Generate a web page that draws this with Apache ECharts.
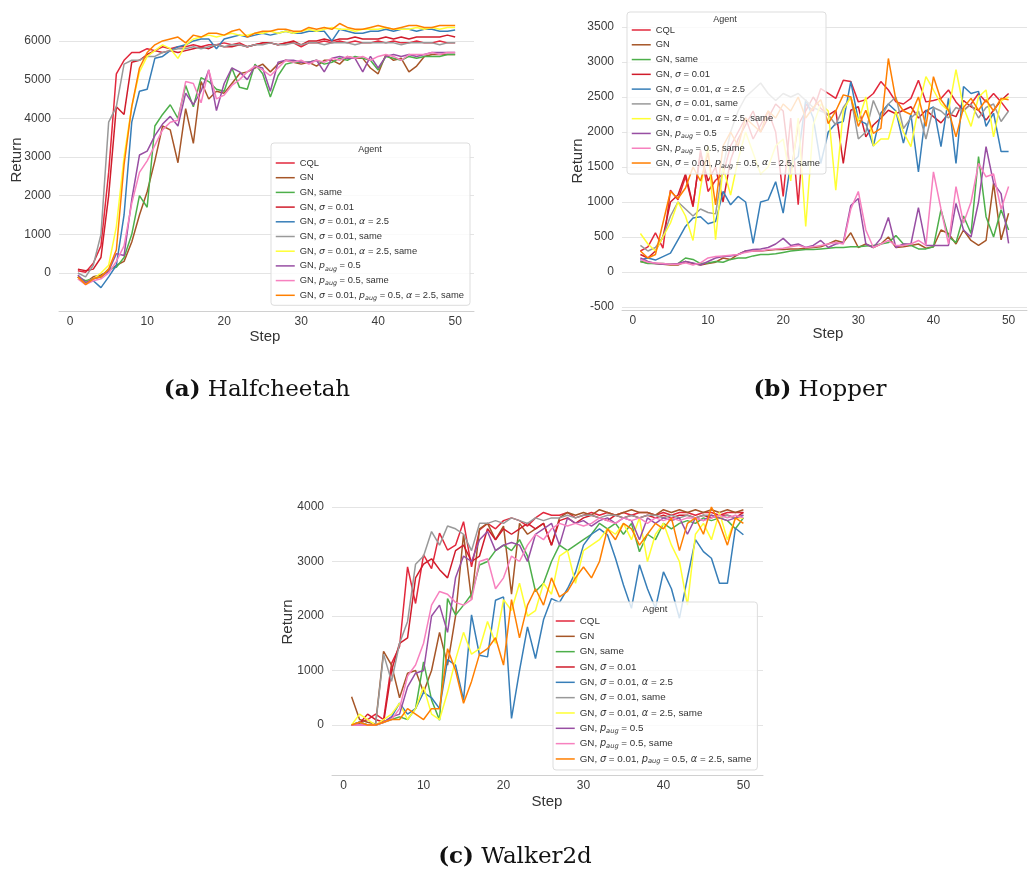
<!DOCTYPE html>
<html>
<head>
<meta charset="utf-8">
<style>html,body{margin:0;padding:0;background:#fff}#c{width:1030px;height:872px}</style>
<script src="https://cdn.jsdelivr.net/npm/echarts@6/dist/echarts.min.js"></script>
</head>
<body>
<div id="c"></div>
<script>
const steps = [1,2,3,4,5,6,7,8,9,10,11,12,13,14,15,16,17,18,19,20,21,22,23,24,25,26,27,28,29,30,31,32,33,34,35,36,37,38,39,40,41,42,43,44,45,46,47,48,49,50];
const agents = ['CQL','GN','GN, same','GN, σ = 0.01','GN, σ = 0.01, α = 2.5','GN, σ = 0.01, same','GN, σ = 0.01, α = 2.5, same','GN, p_aug = 0.5','GN, p_aug = 0.5, same','GN, σ = 0.01, p_aug = 0.5, α = 2.5, same'];
const colors = ['#e2283c','#a65628','#4daf4a','#d01c2b','#377eb8','#999999','#ffff33','#984ea3','#f781bf','#ff7f00'];
const xTicks = [0,10,20,30,40,50];
const panelTitles = ['Halfcheetah','Hopper','Walker2d'];

// ---- Halfcheetah ----
const hcCQL = [60,20,250,700,2600,5150,5500,5700,5700,5800,
 5750,5850,5800,5850,5850,5900,5850,5900,5900,5950,
 5900,5950,5850,5900,5950,5950,5900,5950,5950,5850,
 5950,5950,6000,5950,6000,5950,6000,5950,5950,6000,
 5950,6000,5950,5950,6000,5950,5950,6000,5950,5950];
const hcGN = [-100,-250,-100,-50,50,200,300,800,1500,2100,
 2900,3800,3700,2850,4250,3350,4950,4500,4700,4650,
 4900,5150,5200,5300,5400,5200,5400,5500,5450,5400,
 5450,5350,5500,5500,5400,5600,5550,5550,5300,5150,
 5650,5500,5550,5200,5350,5600,5650,5650,5650,5650];
const hcSame = [-100,-200,-150,-100,100,150,400,1000,2000,1700,
 3800,4100,4350,4000,4850,4300,5050,4950,4750,4700,
 5300,4800,4750,5400,5150,4550,5100,5400,5450,5450,
 5450,5500,5400,5450,5550,5500,5600,5550,5500,5250,
 5600,5550,5500,5600,5550,5600,5600,5600,5650,5650];
const hcSig = [100,60,100,400,2000,4300,4100,5450,5500,5650,
 5750,5700,5750,5700,5750,5800,5850,5800,5900,5850,
 5850,5900,5850,5900,5950,5950,5900,5950,6000,5900,
 6000,6000,6050,6000,6050,6050,6100,6050,6050,6050,
 6100,6050,6100,6050,6100,6100,6100,6100,6150,6100];
const hcSigA = [-100,-250,-200,-380,-100,200,1500,3900,4700,4750,
 5550,5600,5750,5850,5900,6000,6050,6050,5800,6050,
 6100,6150,6100,6150,6200,6150,6200,6250,6200,6200,
 6250,6250,6250,6000,6300,6250,6200,6200,6250,6250,
 6300,6250,6300,6300,6250,6300,6300,6250,6250,6280];
const hcSigSame = [0,-100,200,1000,3900,4300,5400,5500,5500,5600,
 5600,5700,5750,5800,5800,5850,5800,5850,5900,5850,
 5900,5900,5850,5900,5900,5950,5900,5900,5950,5900,
 5950,5950,5900,5950,5950,5950,5900,5950,5950,5950,
 5950,5950,5900,5950,5950,5950,5950,5900,5950,5950];
const hcSigASame = [-150,-250,-150,0,200,1200,3000,4300,5200,5600,
 5750,5900,5800,5550,5900,6050,6100,6150,6100,6150,
 6200,6150,6150,6200,6200,6250,6200,6250,6200,6250,
 6300,6250,6300,6350,6300,6300,6250,6300,6300,6300,
 6350,6300,6300,6300,6350,6300,6350,6300,6350,6350];
const hcPaug = [-50,-250,-150,-100,50,500,450,1900,3050,3150,
 3550,3850,4050,3800,4650,4350,4700,5250,4200,4900,
 5300,5200,5000,5350,5300,4700,5450,5500,5500,5450,
 5450,5500,5200,5550,5600,5550,5550,5200,5600,5300,
 5600,5650,5600,5650,5600,5650,5700,5700,5700,5700];
const hcPaugSame = [-150,-300,-200,-150,0,300,700,1800,2600,2900,
 3300,3700,3900,3950,4950,4900,4400,5250,4500,4600,
 4850,5000,5200,5350,5250,5100,5300,5500,5450,5500,
 5400,5500,5450,5550,5500,5600,5550,5600,5500,5600,
 5650,5600,5500,5650,5650,5650,5700,5650,5700,5700];
const hcFull = [-100,-300,-150,-100,100,600,2800,4300,5300,5700,
 5900,6000,6050,6100,5950,6150,6100,6200,6200,6150,
 6250,6300,6100,6200,6250,6250,6300,6300,6250,6250,
 6350,6300,6350,6300,6450,6350,6300,6300,6350,6400,
 6350,6300,6350,6400,6400,6350,6350,6400,6400,6400];

// ---- Hopper ----
const hpCQL = [300,360,560,340,1170,1030,1360,930,1740,1150,
 1310,1400,1800,2000,2200,1900,2100,2300,2000,1080,
 2200,960,2400,2300,2620,2550,2480,2740,2720,2430,
 2460,2550,2720,2600,2430,2400,2480,2740,2430,2450,
 2480,2600,2430,2310,2400,2550,2430,2550,2430,2290];
const hpGN = [150,130,120,110,100,100,150,120,100,120,
 140,200,180,250,300,300,300,310,320,320,
 330,330,340,350,360,400,450,420,560,350,
 400,350,400,500,350,360,380,400,340,360,
 600,550,400,600,450,380,450,1270,460,840];
const hpSame = [150,120,120,120,110,120,200,180,120,130,
 150,140,180,200,200,230,250,250,260,280,
 300,310,320,320,330,340,350,350,360,360,
 370,380,400,420,520,400,380,330,330,360,
 890,505,420,800,550,1650,790,500,890,600];
const hpSig = [250,200,300,500,1000,1100,1400,950,1700,1300,
 1500,1000,1600,1900,2100,2300,2000,2200,2400,2300,
 1400,2100,2300,2500,2340,2240,2310,1550,2310,2360,
 1930,2100,2200,2310,2260,2310,2360,2200,2310,2220,
 2130,2260,2220,2450,2360,2310,2170,2310,2450,2550];
const hpSigA = [170,200,170,220,270,460,650,770,790,690,
 720,1150,960,1080,1000,410,1000,1030,1290,840,
 1550,1650,2460,2200,1550,2000,2120,2150,2720,2170,
 2120,1800,2270,2400,2300,1840,2250,1430,2300,2360,
 1790,2480,1550,2650,2550,2580,2080,2270,1720,1720];
const hpSigSame = [380,300,350,500,800,1000,900,800,900,850,
 830,1500,2000,2300,2500,2600,2700,2550,2450,2550,
 2500,2550,2450,2350,2300,2250,2100,2350,2500,1900,
 2000,2450,2200,2400,2500,2050,2200,2300,1900,2350,
 2300,2200,2350,2300,2400,2200,2350,2400,2150,2300];
const hpSigASame = [550,400,300,500,700,1000,800,450,1200,1800,
 460,1500,1100,1600,2000,1700,1400,1500,1800,1900,
 1300,2200,650,2100,2400,2300,1170,2310,2500,2150,
 2500,1800,1900,1900,2300,2000,1790,2350,2790,2600,
 2400,2300,2890,2350,2080,2500,2600,1930,2450,2500];
const hpPaug = [200,150,120,110,110,120,150,130,100,150,
 200,220,230,250,300,320,330,350,400,480,
 380,400,350,380,450,350,400,420,950,1050,
 400,350,480,780,350,400,400,920,380,380,
 380,380,980,600,500,1000,1790,1270,1120,410];
const hpPaugSame = [180,140,130,120,110,110,130,100,130,200,
 220,230,240,250,280,300,300,320,330,340,
 360,380,350,360,380,400,420,400,900,1150,
 600,350,400,450,380,380,400,450,380,1430,
 900,400,1220,700,1000,1550,1360,1400,900,1220];
const hpFull = [300,200,250,700,1150,1050,1200,1500,1300,1700,
 960,1800,2000,1800,2200,2100,2000,2300,2200,2400,
 2300,2500,2200,2350,2460,2120,2300,2530,2500,2080,
 2310,1980,2050,3050,2460,2300,2250,2500,2080,2790,
 2460,2310,1930,2350,2480,2310,2460,2300,2480,2460];

// ---- Walker2d ----
const wkCQL = [0,50,100,200,100,1130,1440,2900,2230,3120,
 2870,3520,3210,3300,3730,2900,3580,3700,3600,3750,
 3800,3750,3650,3800,3900,3850,3850,3900,3800,3850,
 3900,3850,3900,3850,3900,3850,3900,3900,3850,3900,
 3850,3900,3900,3850,3900,3900,3850,3900,3900,3900];
const wkGN = [520,100,50,20,1350,1100,500,950,1000,600,
 1000,1700,1100,2000,3500,2300,3600,3700,3400,3650,
 2400,3700,3500,3600,3700,3300,3800,3900,3850,3900,
 3850,3950,3900,3850,3900,3950,3900,3900,3850,3950,
 3900,3950,3900,3950,3900,3950,3900,3950,3900,3950];
const wkSame = [0,50,0,0,50,100,150,100,300,1160,
 460,90,2320,2020,2200,2400,2935,3000,3200,3300,
 3200,3400,3100,2450,2600,3000,3300,3200,3300,3400,
 3500,3700,3600,3700,3500,3700,3180,3500,3400,3700,
 3600,3700,3750,3700,3800,3750,3800,3750,3600,3800];
const wkSig = [0,30,200,100,50,1000,1500,1600,2700,2950,
 3050,2850,2700,3200,3300,3000,3100,3600,3400,3600,
 3500,3600,3700,3600,3700,3300,3750,3800,3700,3800,
 3850,3800,3750,3850,3800,3850,3800,3850,3800,3850,
 3800,3850,3850,3800,3850,3800,3850,3850,3800,3900];
const wkSigA = [0,50,0,0,50,150,400,200,300,600,
 500,300,1200,1100,460,2020,1280,1250,2290,2350,
 120,1000,1800,1220,1930,2320,2250,2500,2800,3300,
 3500,3600,3490,3060,2570,2140,2940,2500,2140,2810,
 2500,1960,2700,3400,3180,3060,2600,2600,3610,3490];
const wkSigSame = [0,50,0,0,1300,800,1500,1900,2950,3100,
 3550,3300,3650,3600,3500,3200,3700,3700,3750,3700,
 3800,3750,3700,3800,3750,3800,3800,3850,3800,3850,
 3850,3800,3850,3850,3800,3850,3800,3850,3850,3800,
 3850,3800,3850,3800,3850,3850,3800,3850,3800,3850];
const wkSigASame = [0,200,100,0,100,200,400,100,300,700,
 200,100,600,1200,1700,1300,1400,1900,1500,2300,
 2100,2600,2000,2100,2600,2400,3100,3200,2600,3200,
 3300,3400,3600,3500,3700,3400,3800,3000,3500,3700,
 3300,3000,2200,3500,3700,3400,3900,3400,3800,3800];
const wkPaug = [0,0,0,0,50,150,200,700,950,1000,
 2000,2200,1700,2700,3100,3000,3400,3550,3200,3300,
 3350,3300,3000,3500,3600,3700,3300,3800,3700,3750,
 3650,3750,3800,3700,3800,3750,3400,3800,3700,3800,
 3750,3800,3500,3800,3750,3850,3800,3750,3800,3850];
const wkPaugSame = [0,0,0,0,50,100,300,900,1100,1500,
 2200,2450,2400,2250,2200,2300,3000,3050,2500,2700,
 3100,3000,3300,3500,3400,3600,3700,3650,3700,3650,
 3700,3800,3750,3700,3800,3750,3800,3700,3800,3750,
 3800,3750,3800,3800,3750,3800,3850,3800,3850,3800];
const wkFull = [0,50,0,0,50,100,100,300,200,100,
 300,300,1400,1000,400,800,1300,1400,1600,1100,
 2300,1600,2200,2500,2200,2700,2350,2450,2700,2900,
 2700,3000,3600,3400,3700,3600,3300,3500,3700,3600,
 3800,3200,3700,3800,3500,4000,3700,3300,3800,3700];

const panels = [
  [hcCQL, hcGN, hcSame, hcSig, hcSigA, hcSigSame, hcSigASame, hcPaug, hcPaugSame, hcFull],
  [hpCQL, hpGN, hpSame, hpSig, hpSigA, hpSigSame, hpSigASame, hpPaug, hpPaugSame, hpFull],
  [wkCQL, wkGN, wkSame, wkSig, wkSigA, wkSigSame, wkSigASame, wkPaug, wkPaugSame, wkFull]
];

// ---- layout (not data) ----
const grids = [
  {left: 59, top: 10, width: 415, height: 301},
  {left: 622, top: 12, width: 414, height: 298},
  {left: 332, top: 472, width: 431, height: 303}
];
const yCfg = [
  {min: -983, max: 6800, iv: 1000},
  {min: -543, max: 3714, iv: 500},
  {min: -917, max: 4642, iv: 1000}
];
const legendCfg = [
  {left: 271, top: 143, padding: [14, 6, 4, 4], itemGap: 2.7, fontSize: 9.4},
  {left: 627, top: 12, padding: [12, 6, 5, 4], itemGap: 2.78, fontSize: 9.4},
  {left: 553, top: 602, padding: [13, 6, 5, 2], itemGap: 3.33, fontSize: 9.8}
];
const tickColor = '#3c3c3c';
const FONT = 'Liberation Sans';

function legendName(name) {
  return name.replace(/σ/g, '{m|σ}').replace(/α/g, '{m|α}').replace(/p_aug/g, '{m|p}{s|aug}');
}

const series = [];
panels.forEach((arrs, p) => {
  arrs.forEach((arr, i) => {
    series.push({
      type: 'line', name: agents[i], xAxisIndex: p, yAxisIndex: p,
      data: steps.map((s, j) => [s, arr[j]]),
      symbol: 'none', showSymbol: false, silent: true,
      lineStyle: {width: 1.5, color: colors[i]},
      itemStyle: {color: colors[i]},
      emphasis: {disabled: true},
      animation: false
    });
  });
});

const xAxis = grids.map((g, p) => ({
  type: 'value', gridIndex: p, min: -1.45, max: 52.45, minInterval: 10, maxInterval: 10,
  axisLine: {show: true, onZero: false, lineStyle: {color: '#d0d0d0', width: 1}},
  axisTick: {show: false}, splitLine: {show: false},
  axisLabel: {margin: 5, fontSize: 12, color: tickColor, fontFamily: FONT,
    formatter: v => (xTicks.indexOf(Math.round(v * 1000) / 1000) >= 0 ? String(Math.abs(v) < 1e-9 ? 0 : v) : '')}
}));
const yAxis = yCfg.map((c, p) => ({
  type: 'value', gridIndex: p, min: c.min, max: c.max, minInterval: c.iv, maxInterval: c.iv,
  axisLine: {show: false}, axisTick: {show: false},
  splitLine: {show: true, showMinLine: false, showMaxLine: false, lineStyle: {color: '#e4e4e4', width: 1}},
  axisLabel: {margin: 8, fontSize: 12, color: tickColor, fontFamily: FONT,
    formatter: v => (Math.abs(v % c.iv) < 1e-6 ? String(Math.abs(v) < 1e-9 ? 0 : v) : '')}
}));

const legend = legendCfg.map(l => ({
  data: agents, orient: 'vertical', left: l.left, top: l.top, padding: l.padding,
  itemWidth: 19, itemHeight: 12, itemGap: l.itemGap, selectedMode: false,
  backgroundColor: 'rgba(255,255,255,0.8)', borderColor: '#dddddd', borderWidth: 1, borderRadius: 3,
  itemStyle: {opacity: 0},
  lineStyle: {width: 1.5},
  formatter: legendName,
  textStyle: {fontSize: l.fontSize, fontFamily: FONT, color: '#333', lineHeight: 12,
    rich: {
      m: {fontStyle: 'italic', fontFamily: 'DejaVu Sans', fontSize: l.fontSize, color: '#333', lineHeight: 12},
      s: {fontStyle: 'italic', fontFamily: 'DejaVu Sans', fontSize: l.fontSize * 0.68, color: '#333', lineHeight: 6, verticalAlign: 'bottom'}
    }}
}));

function txt(x, y, text, size, opts) {
  return Object.assign({type: 'text', x: x, y: y, z: 100,
    style: {text: text, fontSize: size, fontFamily: FONT, fill: '#333', align: 'center', verticalAlign: 'middle'}}, opts || {});
}
const graphic = [
  txt(17, 160, 'Return', 15, {rotation: Math.PI / 2}),
  txt(578, 161, 'Return', 15, {rotation: Math.PI / 2}),
  txt(288, 622, 'Return', 15, {rotation: Math.PI / 2}),
  txt(265, 337, 'Step', 15),
  txt(828, 334, 'Step', 15),
  txt(547, 802, 'Step', 15),
  txt(370, 150, 'Agent', 9),
  txt(725, 20, 'Agent', 9),
  txt(655, 609, 'Agent', 9.5)
];
const capPos = [[257, 390, '(a)'], [820, 390, '(b)'], [515, 857, '(c)']];
capPos.forEach((c, i) => {
  graphic.push({type: 'text', x: c[0], y: c[1], z: 100,
    style: {text: '{b|' + c[2] + '} ' + panelTitles[i], fontSize: 23, fontFamily: 'DejaVu Serif', fill: '#111',
      align: 'center', verticalAlign: 'middle',
      rich: {b: {fontWeight: 'bold', fontSize: 23, fontFamily: 'DejaVu Serif', fill: '#111'}}}});
});

const chart = echarts.init(document.getElementById('c'), null, {renderer: 'canvas'});
chart.setOption({
  animation: false,
  backgroundColor: '#ffffff',
  grid: grids, xAxis: xAxis, yAxis: yAxis, legend: legend, series: series, graphic: graphic
});
</script>
</body>
</html>
